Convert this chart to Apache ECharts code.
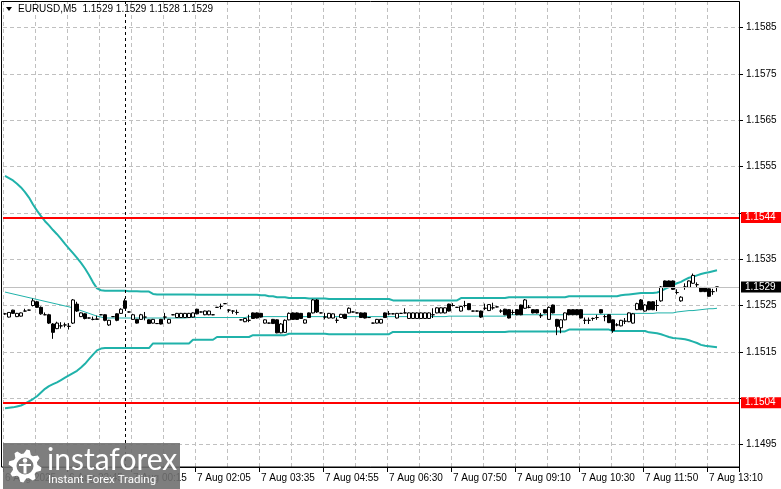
<!DOCTYPE html>
<html>
<head>
<meta charset="utf-8">
<title>EURUSD,M5</title>
<script src="https://cdn.jsdelivr.net/npm/echarts@6.0.0/dist/echarts.min.js"></script>
<style>
    html, body { margin: 0; padding: 0; background: #fff; }
    #main { width: 781px; height: 489px; }
</style>
</head>
<body>
<div id="main"></div>
<script>
// ---- data ----
var symbolName = 'EURUSD,M5';
var basePrice = 1.1520;   // candle and band values below are pips above this
var pip = 0.0001;
var slotCount = 184;      // bar slots across the plot, 4px each

var timeLabels = ['6 Aug 2025', '6 Aug 22:45', '7 Aug 00:15', '7 Aug 02:05', '7 Aug 03:35', '7 Aug 04:55',
    '7 Aug 06:30', '7 Aug 07:50', '7 Aug 09:10', '7 Aug 10:30', '7 Aug 11:50', '7 Aug 13:10'];
var labelEvery = 16;      // bars between time labels
var gridEvery = 8;        // bars between vertical grid lines

var levelLines = [1.1544, 1.1504];
var bidPrice = 1.1529;
var daySeparatorBar = 30;

// [open, close, low, high] in pips above basePrice
var candles = [
    [3.2, 3.2, 3.0, 3.4], [2.5, 3.5, 2.4, 3.6], [4.0, 3.3, 3.2, 4.1], [2.6, 3.3, 2.5, 3.4], [2.7, 3.4, 2.6, 3.5],
    [3.8, 3.8, 3.7, 4.3], [4.0, 4.0, 4.0, 4.1], [5.0, 6.0, 4.8, 6.5], [5.8, 4.6, 4.5, 6.0], [4.6, 3.2, 3.0, 4.8],
    [3.0, 3.0, 2.9, 3.5], [3.0, 1.2, 1.0, 3.2], [1.0, -0.8, -2.2, 1.2], [0.0, 1.2, -0.1, 1.5], [0.6, 0.6, 0.0, 1.4],
    [0.8, 0.8, 0.3, 1.3], [0.5, 0.5, -0.2, 1.2], [1.2, 6.2, 1.0, 6.4], [5.3, 3.8, 3.6, 5.8], [2.6, 3.4, 2.5, 3.5],
    [3.2, 2.2, 2.0, 3.3], [2.3, 2.3, 2.2, 2.4], [2.0, 2.0, 1.8, 2.6], [2.0, 2.1, 1.9, 2.8], [3.0, 3.0, 2.9, 3.1],
    [3.0, 1.8, 1.6, 3.1], [0.8, 1.8, 0.6, 1.9], [2.6, 2.6, 2.5, 2.7], [3.2, 1.8, 1.6, 3.3], [3.3, 4.2, 3.2, 4.4],
    [6.0, 4.4, 4.3, 6.5], [3.6, 3.6, 3.5, 3.7], [2.0, 3.0, 1.9, 3.2], [2.0, 1.2, 1.1, 2.1], [2.0, 3.0, 1.9, 3.2],
    [2.5, 2.5, 1.8, 3.6], [1.9, 1.1, 1.0, 2.0], [1.2, 2.0, 1.1, 2.1], [1.1, 1.1, 1.0, 1.2], [2.0, 1.0, 0.9, 2.1],
    [2.5, 2.5, 1.9, 3.4], [1.2, 2.0, 1.1, 2.1], [3.0, 3.0, 2.9, 3.1], [2.4, 3.3, 2.3, 3.4], [2.4, 3.3, 2.3, 3.4],
    [2.4, 3.3, 2.3, 3.4], [2.4, 3.3, 2.3, 3.4], [2.5, 3.4, 2.4, 3.5], [4.2, 3.2, 3.1, 4.3], [3.6, 3.6, 3.5, 3.7],
    [3.0, 3.8, 2.9, 3.9], [3.0, 3.8, 2.9, 3.9], [3.0, 3.0, 2.9, 3.1], [4.6, 4.6, 4.5, 4.7], [4.8, 4.8, 4.2, 5.4],
    [5.4, 5.4, 5.3, 5.5], [4.0, 4.0, 3.5, 4.2], [3.8, 3.8, 3.2, 4.0], [3.5, 3.5, 3.0, 4.1], [1.9, 1.9, 1.8, 2.0],
    [1.5, 2.2, 1.4, 2.3], [1.8, 1.8, 1.4, 3.0], [3.4, 2.2, 2.1, 3.5], [3.4, 2.3, 2.2, 3.5], [3.3, 2.5, 2.4, 3.4],
    [1.2, 1.9, 1.1, 2.0], [1.2, 1.2, 1.1, 1.3], [2.0, 1.1, 1.0, 2.1], [1.9, -0.9, -1.0, 2.0], [-0.9, 1.0, -1.0, 1.2],
    [-0.8, 1.8, -0.9, 2.0], [1.9, 3.3, 1.8, 3.5], [3.4, 2.0, 1.9, 3.5], [3.4, 2.0, 1.9, 3.5], [3.3, 2.2, 2.1, 3.4],
    [1.2, 1.9, 1.1, 2.0], [3.4, 2.4, 2.3, 3.5], [3.4, 6.2, 3.3, 6.4], [6.2, 3.6, 3.4, 6.4], [3.4, 3.4, 3.3, 3.5],
    [2.5, 2.5, 2.0, 3.4], [2.3, 3.3, 2.2, 3.4], [2.3, 3.2, 2.2, 3.3], [1.8, 1.8, 1.2, 2.4], [2.4, 3.1, 2.3, 3.2],
    [3.1, 2.2, 2.1, 3.2], [3.4, 4.4, 3.3, 4.6], [3.6, 3.6, 3.5, 3.7], [3.4, 3.4, 3.3, 3.5], [3.4, 2.4, 2.3, 3.5],
    [3.4, 2.3, 2.2, 3.5], [2.4, 2.4, 2.3, 2.5], [1.2, 1.2, 1.1, 1.3], [1.2, 2.0, 1.1, 2.1], [1.2, 2.0, 1.1, 2.1],
    [3.4, 2.4, 2.3, 3.5], [3.2, 3.2, 2.9, 3.8], [3.2, 3.2, 3.1, 3.3], [2.3, 3.3, 2.2, 3.4], [3.3, 3.3, 3.2, 3.4],
    [3.4, 3.4, 3.3, 4.4], [2.2, 3.4, 2.1, 3.5], [2.2, 3.4, 2.1, 3.5], [2.2, 3.4, 2.1, 3.5], [2.2, 3.4, 2.1, 3.5],
    [2.2, 3.4, 2.1, 3.5], [2.2, 3.4, 2.1, 3.5], [3.0, 3.0, 2.3, 4.4], [3.4, 4.5, 3.3, 4.6], [3.4, 4.5, 3.3, 4.6],
    [3.4, 4.5, 3.3, 4.6], [5.3, 3.8, 3.7, 5.4], [5.0, 5.0, 4.8, 5.5], [4.6, 4.6, 4.5, 4.7], [3.8, 4.8, 3.7, 4.9],
    [5.0, 5.0, 4.6, 6.0], [5.4, 4.1, 4.0, 5.5], [3.8, 3.8, 3.7, 3.9], [3.8, 3.8, 3.7, 3.9], [3.8, 2.5, 2.3, 3.9],
    [4.4, 4.4, 4.0, 5.4], [3.9, 5.2, 3.8, 5.3], [4.5, 4.5, 4.1, 5.6], [4.7, 4.7, 4.6, 4.8], [3.8, 3.8, 3.4, 4.2],
    [4.2, 3.0, 2.9, 4.3], [4.1, 2.3, 2.2, 4.2], [3.5, 3.5, 3.0, 4.1], [4.1, 3.0, 2.9, 4.2], [5.1, 3.0, 2.9, 5.2],
    [4.4, 6.2, 4.3, 6.4], [4.6, 4.6, 4.4, 5.1], [4.1, 3.4, 3.3, 4.2], [4.1, 3.4, 3.3, 4.2], [2.8, 2.8, 2.3, 3.4],
    [4.1, 3.4, 3.3, 4.2], [2.0, 4.6, 1.9, 4.8], [5.1, 3.4, 3.3, 5.2], [2.0, 0.5, -1.4, 2.1], [0.2, 1.9, -1.0, 2.0],
    [1.9, 3.4, 1.8, 3.5], [4.1, 3.0, 2.9, 4.2], [4.1, 3.0, 2.9, 4.2], [4.1, 3.0, 2.9, 4.2], [4.1, 2.3, 2.2, 4.2],
    [1.8, 1.8, 1.0, 2.4], [1.8, 1.8, 1.0, 2.4], [2.2, 2.2, 1.7, 2.4], [2.4, 2.4, 1.9, 3.0], [4.1, 3.4, 3.3, 4.2],
    [2.6, 2.6, 1.6, 3.0], [3.0, 1.3, 1.2, 3.1], [1.9, -0.4, -0.9, 2.0], [0.8, 0.8, 0.5, 1.2], [0.6, 1.8, 0.5, 1.9],
    [1.6, 1.6, 1.0, 2.3], [1.5, 3.4, 1.4, 3.5], [1.2, 3.2, 1.1, 3.4], [4.1, 5.4, 4.0, 5.6], [6.2, 4.1, 4.0, 6.4],
    [3.8, 5.1, 3.7, 5.3], [5.8, 4.1, 4.0, 5.9], [5.8, 4.1, 4.0, 5.9], [5.0, 5.0, 3.8, 6.2], [6.0, 9.0, 5.8, 9.2],
    [10.3, 8.9, 8.8, 10.4], [10.3, 8.9, 8.8, 10.4], [10.3, 8.5, 8.4, 10.4], [7.8, 7.8, 7.4, 8.5], [6.0, 6.8, 5.8, 7.0],
    [9.0, 9.0, 8.4, 9.8], [8.9, 10.3, 8.8, 10.4], [9.8, 11.5, 9.7, 11.9], [9.5, 9.5, 8.9, 10.0], [8.9, 8.0, 7.9, 9.0],
    [8.9, 8.0, 7.9, 9.0], [8.6, 7.0, 6.9, 8.7], [8.0, 8.0, 7.3, 8.6], [9.0, 9.0, 8.0, 9.0]
];

// Bollinger bands, pips above basePrice, one value per bar
var bandUpper = [
    33.0, 32.5, 32.0, 31.3, 30.5, 29.5, 28.3, 26.8, 25.5, 24.3, 23.2, 22.3, 21.3, 20.4, 19.4, 18.3, 17.3, 16.3, 15.3, 14.2,
    13.0, 11.6, 10.0, 8.7, 8.3, 8.2, 8.2, 8.2, 8.2, 8.2, 8.2, 8.1, 8.1, 8.1, 8.0, 8.0, 8.0, 7.5, 7.4, 7.4,
    7.4, 7.4, 7.4, 7.4, 7.4, 7.4, 7.4, 7.4, 7.3, 7.3, 7.3, 7.3, 7.3, 7.3, 7.3, 7.3, 7.3, 7.3, 7.3, 7.3,
    7.3, 7.3, 7.3, 7.3, 7.2, 7.2, 7.0, 7.0, 6.8, 6.8, 6.8, 6.6, 6.6, 6.6, 6.6, 6.6, 6.5, 6.5, 6.5, 6.5,
    6.5, 6.4, 6.4, 6.4, 6.4, 6.4, 6.4, 6.4, 6.4, 6.4, 6.4, 6.4, 6.4, 6.4, 6.4, 6.4, 6.4, 6.1, 6.1, 6.1,
    6.1, 6.1, 6.1, 6.1, 6.1, 6.1, 6.1, 6.1, 6.1, 6.1, 6.1, 6.1, 6.1, 6.1, 6.6, 6.6, 6.6, 6.6, 6.6, 6.6,
    6.6, 6.6, 6.6, 6.6, 6.6, 6.6, 6.8, 6.8, 6.8, 6.8, 6.8, 6.8, 6.8, 6.8, 6.8, 6.8, 6.8, 6.8, 6.8, 6.8,
    6.8, 7.0, 7.0, 7.0, 7.0, 7.0, 7.0, 7.0, 7.0, 7.0, 7.0, 7.0, 7.0, 7.0, 7.2, 7.3, 7.4, 7.5, 7.6, 7.7,
    7.7, 7.7, 7.7, 7.8, 8.1, 8.6, 9.0, 9.4, 9.8, 10.1, 10.6, 11.0, 11.2, 11.5, 11.8, 12.0, 12.2, 12.4, 12.6
];
var bandMiddle = [
    7.9, 7.7, 7.5, 7.3, 7.1, 6.9, 6.7, 6.5, 6.3, 6.1, 5.9, 5.7, 5.5, 5.3, 5.1, 4.9, 4.7, 4.5, 4.2, 3.9,
    3.6, 3.3, 3.0, 2.7, 2.5, 2.3, 2.3, 2.3, 2.3, 2.3, 2.3, 2.3, 2.3, 2.3, 2.3, 2.3, 2.3, 2.3, 2.3, 2.3,
    2.3, 2.3, 2.3, 2.3, 2.3, 2.3, 2.4, 2.4, 2.4, 2.4, 2.4, 2.4, 2.4, 2.4, 2.4, 2.4, 2.4, 2.4, 2.4, 2.4,
    2.4, 2.6, 2.6, 2.6, 2.6, 2.6, 2.6, 2.6, 2.6, 2.6, 2.6, 2.6, 2.6, 2.6, 2.6, 2.6, 2.6, 2.6, 2.6, 2.6,
    2.6, 2.6, 2.6, 2.6, 2.6, 2.6, 2.6, 2.6, 2.6, 2.6, 2.6, 2.6, 2.6, 2.6, 2.6, 2.6, 2.6, 2.6, 2.6, 2.6,
    2.6, 2.6, 2.6, 2.6, 2.6, 2.6, 2.6, 2.6, 2.6, 2.6, 2.6, 2.7, 2.7, 2.7, 2.7, 2.7, 2.7, 2.7, 2.7, 2.7,
    2.7, 2.7, 2.7, 2.7, 2.7, 2.7, 3.0, 3.0, 3.0, 3.0, 3.0, 3.0, 3.0, 3.0, 3.0, 3.0, 3.0, 3.0, 3.0, 3.0,
    3.0, 3.1, 3.1, 3.1, 3.1, 3.1, 3.1, 3.1, 3.1, 3.1, 3.1, 3.1, 3.1, 3.1, 3.1, 3.1, 3.1, 3.3, 3.3, 3.3,
    3.3, 3.3, 3.3, 3.4, 3.4, 3.4, 3.4, 3.4, 3.6, 3.7, 3.8, 3.9, 3.9, 4.0, 4.1, 4.2, 4.3, 4.3, 4.4
];
var bandLower = [
    -17.2, -17.1, -17.0, -16.8, -16.6, -16.2, -15.7, -15.2, -14.6, -13.8, -13.0, -12.4, -12.0, -11.6, -11.1, -10.6, -10.1, -9.6, -9.1, -8.4,
    -7.6, -6.6, -5.6, -4.7, -4.3, -4.2, -4.2, -4.2, -4.2, -4.2, -4.2, -4.2, -4.2, -4.2, -4.2, -4.2, -4.2, -3.2, -3.2, -3.2,
    -3.2, -3.2, -3.2, -3.2, -3.2, -3.2, -3.2, -2.4, -2.4, -2.4, -2.4, -2.4, -2.4, -1.8, -1.8, -1.8, -1.8, -1.8, -1.8, -1.8,
    -1.8, -1.8, -1.4, -1.4, -1.4, -1.4, -1.4, -1.4, -1.4, -1.4, -1.4, -1.1, -1.1, -1.1, -1.1, -1.1, -1.1, -1.1, -1.1, -1.1,
    -1.1, -1.2, -1.2, -1.2, -1.2, -1.2, -1.2, -1.2, -1.2, -1.2, -1.2, -1.2, -1.2, -1.2, -1.2, -1.2, -1.2, -0.7, -0.7, -0.7,
    -0.7, -0.7, -0.7, -0.7, -0.7, -0.7, -0.7, -0.7, -0.7, -0.7, -0.7, -0.7, -0.7, -0.7, -0.7, -0.7, -0.7, -0.7, -0.7, -0.7,
    -0.7, -0.7, -0.7, -0.7, -0.7, -0.7, -0.6, -0.6, -0.6, -0.6, -0.6, -0.6, -0.6, -0.6, -0.6, -0.6, -0.6, -0.6, -0.6, -0.6,
    -0.6, -0.2, -0.2, -0.2, -0.2, -0.2, -0.2, -0.2, -0.2, -0.2, -0.2, -0.2, -0.5, -0.5, -0.5, -0.5, -0.5, -0.5, -0.5, -0.5,
    -0.5, -0.8, -0.9, -1.0, -1.2, -1.5, -1.8, -2.0, -2.1, -2.2, -2.3, -2.5, -2.8, -3.1, -3.5, -3.7, -3.8, -3.9, -4.0
];

// ---- chart ----
var FONT = '"Liberation Sans", Arial, sans-serif';
var BAND_COLOR = '#20b2aa';
var GRID_COLOR = '#c0c0c0';

function toPrice(v) {
    return +(basePrice + v * pip).toFixed(5);
}

var slots = [];
for (var i = 0; i < slotCount; i++) {
    slots.push(String(i));
}

var candleData = candles.map(function (c) {
    return [toPrice(c[0]), toPrice(c[1]), toPrice(c[2]), toPrice(c[3])];
});
var last = candles[candles.length - 1];
var titleText = symbolName + '  ' + [last[0], last[3], last[2], last[1]].map(function (v) {
    return toPrice(v).toFixed(4);
}).join(' ');

// gear outline for the logo
var gearPoints = [];
for (var k = 0; k < 32; k++) {
    var a = (k + 0.5) / 32 * Math.PI * 2;
    var r = (k % 4 < 2) ? 16.5 : 12.5;
    gearPoints.push([25 + r * Math.cos(a), 466 + r * Math.sin(a)]);
}

var LOGO_Z = 100;

var myChart = echarts.init(document.getElementById('main'));

var option = {
    backgroundColor: '#ffffff',
    animation: false,
    grid: [
        {left: 3, right: 42, top: 1, bottom: 22},          // full frame: time axis and vertical grid
        {left: 3, right: 42, top: 27.7, bottom: 44.6}      // price area: 1.1495 .. 1.1585
    ],
    xAxis: [{
        type: 'category',
        gridIndex: 0,
        data: slots,
        boundaryGap: true,
        axisLine: {show: true, lineStyle: {color: '#000', width: 1}},
        axisTick: {show: true, interval: labelEvery - 1, length: 5, lineStyle: {color: '#000'}},
        axisLabel: {
            interval: labelEvery - 1,
            align: 'left',
            margin: 6,
            color: '#000',
            fontFamily: FONT,
            fontSize: 10,
            formatter: function (value, index) {
                return timeLabels[index / labelEvery] || '';
            }
        },
        splitLine: {show: true, interval: gridEvery - 1, lineStyle: {color: GRID_COLOR, type: [4, 3], width: 1}}
    }, {
        type: 'category',
        gridIndex: 1,
        data: slots,
        boundaryGap: true,
        show: false
    }],
    yAxis: [{
        type: 'value',
        gridIndex: 0,
        min: 0,
        max: 1,
        show: false
    }, {
        type: 'value',
        gridIndex: 1,
        position: 'right',
        min: 1.1495,
        max: 1.1585,
        interval: 0.001,
        axisLine: {show: false},
        axisTick: {show: true, length: 4, lineStyle: {color: '#000'}},
        axisLabel: {
            margin: 7,
            color: '#000',
            fontFamily: FONT,
            fontSize: 10,
            formatter: function (v) {
                for (var j = 0; j < levelLines.length; j++) {
                    if (Math.abs(v - levelLines[j]) < 0.0003) return '';
                }
                return v.toFixed(4);
            }
        },
        splitLine: {show: true, lineStyle: {color: GRID_COLOR, type: [4, 3], width: 1}}
    }],
    series: [
        {
            name: 'separator',
            type: 'line',
            xAxisIndex: 0,
            yAxisIndex: 0,
            data: [],
            markLine: {
                silent: true,
                symbol: 'none',
                label: {show: false},
                lineStyle: {color: '#000', type: [3, 3], width: 1},
                data: [{xAxis: daySeparatorBar}]
            }
        },
        {
            name: 'upper',
            type: 'line',
            xAxisIndex: 1,
            yAxisIndex: 1,
            showSymbol: false,
            data: bandUpper.map(toPrice),
            lineStyle: {color: BAND_COLOR, width: 2},
            z: 3
        },
        {
            name: 'middle',
            type: 'line',
            xAxisIndex: 1,
            yAxisIndex: 1,
            showSymbol: false,
            data: bandMiddle.map(toPrice),
            lineStyle: {color: BAND_COLOR, width: 1},
            z: 3
        },
        {
            name: 'lower',
            type: 'line',
            xAxisIndex: 1,
            yAxisIndex: 1,
            showSymbol: false,
            data: bandLower.map(toPrice),
            lineStyle: {color: BAND_COLOR, width: 2},
            z: 3
        },
        {
            name: symbolName,
            type: 'candlestick',
            xAxisIndex: 1,
            yAxisIndex: 1,
            barWidth: 3,
            data: candleData,
            itemStyle: {
                color: '#ffffff',
                color0: '#000000',
                borderColor: '#000000',
                borderColor0: '#000000',
                borderWidth: 1
            },
            z: 4,
            markLine: {
                silent: true,
                symbol: 'none',
                precision: 4,
                data: levelLines.map(function (lv) {
                    return {
                        yAxis: lv,
                        lineStyle: {color: '#ff0000', width: 2, type: 'solid'},
                        label: {backgroundColor: '#ff0000', color: '#ffffff'}
                    };
                }).concat([{
                    yAxis: bidPrice,
                    lineStyle: {color: GRID_COLOR, width: 1, type: 'solid'},
                    label: {backgroundColor: '#000000', color: '#ffffff'}
                }]),
                label: {
                    show: true,
                    position: 'end',
                    distance: 2,
                    fontFamily: FONT,
                    fontSize: 10,
                    lineHeight: 11,
                    padding: [0, 8, 0, 4],
                    formatter: function (p) {
                        return Number(p.value).toFixed(4);
                    }
                }
            }
        }
    ],
    graphic: [
        {
            type: 'rect',
            z: 50,
            silent: true,
            shape: {x: 1.5, y: 1.5, width: 738, height: 465.5},
            style: {fill: 'none', stroke: '#000', lineWidth: 1}
        },
        {
            type: 'polygon',
            z: 60,
            shape: {points: [[6, 7], [12, 7], [9, 11]]},
            style: {fill: '#000'}
        },
        {
            type: 'text',
            z: 60,
            left: 17,
            top: 4,
            style: {
                text: titleText,
                fill: '#000',
                font: '10px ' + FONT,
                backgroundColor: '#ffffff',
                padding: [0, 2, 0, 1]
            }
        },
        // logo overlay, bottom left
        {
            type: 'rect',
            z: LOGO_Z,
            shape: {x: 3, y: 443, width: 177, height: 46},
            style: {fill: 'rgba(112,112,112,0.9)'}
        },
        {
            type: 'polygon',
            z: LOGO_Z,
            shape: {points: gearPoints},
            style: {fill: '#ffffff'}
        },
        {
            type: 'circle',
            z: LOGO_Z,
            shape: {cx: 25, cy: 466, r: 8.5},
            style: {fill: '#7a7a7a'}
        },
        {
            type: 'circle',
            z: LOGO_Z,
            shape: {cx: 25, cy: 460.5, r: 2.3},
            style: {fill: '#ffffff'}
        },
        {
            type: 'rect',
            z: LOGO_Z,
            shape: {x: 23.5, y: 463.5, width: 3, height: 10},
            style: {fill: '#ffffff'}
        },
        {
            type: 'rect',
            z: LOGO_Z,
            shape: {x: 19, y: 464, width: 12, height: 2},
            style: {fill: '#ffffff'}
        },
        {
            type: 'text',
            z: LOGO_Z,
            x: 47,
            y: 445,
            style: {
                text: 'instaforex',
                fill: '#ffffff',
                font: '400 30px Lato, "Open Sans", sans-serif'
            }
        },
        {
            type: 'text',
            z: LOGO_Z,
            x: 48,
            y: 474,
            style: {
                text: 'Instant Forex Trading',
                fill: '#ffffff',
                font: '11.5px Roboto, "Liberation Sans", sans-serif'
            }
        }
    ]
};

myChart.setOption(option);
</script>
</body>
</html>
